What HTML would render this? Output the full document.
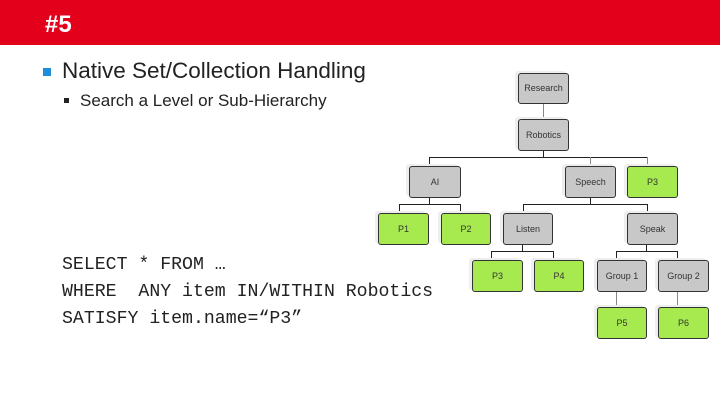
<!DOCTYPE html>
<html><head><meta charset="utf-8"><style>
body{margin:0;width:720px;height:405px;background:#fff;position:relative;overflow:hidden;font-family:"Liberation Sans",sans-serif}
.bar{position:absolute;left:0;top:0;width:720px;height:45px;background:#e2001a}
.t{position:absolute;white-space:nowrap}
.n{position:absolute;box-sizing:border-box;border:1px solid #333;border-radius:3px;font-size:9px;color:#333;text-align:center;box-shadow:-3px -2px 0 #eee}
.g{background:#c8c8c8}.p{background:#a6ea50}
.l{position:absolute;background:#222}
</style></head><body>
<div class="bar"></div>
<div class="t" style="left:45px;top:11px;font-size:24px;font-weight:bold;color:#fff">#5</div>
<div class="t" style="left:43px;top:68px;width:8px;height:8px;background:#1f8fdc"></div>
<div class="t" style="left:62px;top:58px;font-size:22.5px;color:#222">Native Set/Collection Handling</div>
<div class="t" style="left:64px;top:98px;width:5px;height:5px;background:#222"></div>
<div class="t" style="left:80px;top:91px;font-size:17px;color:#222">Search a Level or Sub-Hierarchy</div>
<div class="t" style="left:62px;top:252px;font-family:'Liberation Mono',monospace;font-size:18.2px;line-height:27px;color:#222;white-space:pre">SELECT * FROM …
WHERE  ANY item IN/WITHIN Robotics
SATISFY item.name=“P3”</div>
<!-- lines -->
<div class="l" style="left:543px;top:104px;width:1px;height:15px;background:#888"></div>
<div class="l" style="left:543px;top:151px;width:1px;height:6px"></div>
<div class="l" style="left:429px;top:157px;width:219px;height:1px"></div>
<div class="l" style="left:429px;top:157px;width:1px;height:9px"></div>
<div class="l" style="left:590px;top:157px;width:1px;height:9px;background:#888"></div>
<div class="l" style="left:647px;top:157px;width:1px;height:9px;background:#888"></div>
<div class="l" style="left:399px;top:204px;width:62px;height:1px"></div>
<div class="l" style="left:399px;top:204px;width:1px;height:9px"></div>
<div class="l" style="left:460px;top:204px;width:1px;height:9px"></div>
<div class="l" style="left:429px;top:198px;width:1px;height:6px"></div>
<div class="l" style="left:523px;top:204px;width:125px;height:1px"></div>
<div class="l" style="left:523px;top:204px;width:1px;height:9px"></div>
<div class="l" style="left:647px;top:204px;width:1px;height:9px"></div>
<div class="l" style="left:590px;top:198px;width:1px;height:6px"></div>
<div class="l" style="left:491px;top:251px;width:63px;height:1px"></div>
<div class="l" style="left:491px;top:251px;width:1px;height:9px"></div>
<div class="l" style="left:553px;top:251px;width:1px;height:9px"></div>
<div class="l" style="left:522px;top:245px;width:1px;height:6px"></div>
<div class="l" style="left:616px;top:251px;width:62px;height:1px"></div>
<div class="l" style="left:616px;top:251px;width:1px;height:9px"></div>
<div class="l" style="left:677px;top:251px;width:1px;height:9px"></div>
<div class="l" style="left:646px;top:245px;width:1px;height:6px"></div>
<div class="l" style="left:616px;top:292px;width:1px;height:15px;background:#888"></div>
<div class="l" style="left:677px;top:292px;width:1px;height:15px;background:#888"></div>
<!-- nodes -->
<div class="n g" style="left:518px;top:73px;width:51px;height:31px;line-height:29px">Research</div>
<div class="n g" style="left:518px;top:119px;width:51px;height:32px;line-height:30px">Robotics</div>
<div class="n g" style="left:409px;top:166px;width:52px;height:32px;line-height:30px">AI</div>
<div class="n g" style="left:565px;top:166px;width:51px;height:32px;line-height:30px">Speech</div>
<div class="n p" style="left:627px;top:166px;width:51px;height:32px;line-height:30px">P3</div>
<div class="n p" style="left:378px;top:213px;width:51px;height:32px;line-height:30px">P1</div>
<div class="n p" style="left:441px;top:213px;width:50px;height:32px;line-height:30px">P2</div>
<div class="n g" style="left:503px;top:213px;width:50px;height:32px;line-height:30px">Listen</div>
<div class="n g" style="left:627px;top:213px;width:51px;height:32px;line-height:30px">Speak</div>
<div class="n p" style="left:472px;top:260px;width:51px;height:32px;line-height:30px">P3</div>
<div class="n p" style="left:534px;top:260px;width:50px;height:32px;line-height:30px">P4</div>
<div class="n g" style="left:597px;top:260px;width:50px;height:32px;line-height:30px">Group 1</div>
<div class="n g" style="left:658px;top:260px;width:51px;height:32px;line-height:30px">Group 2</div>
<div class="n p" style="left:597px;top:307px;width:50px;height:32px;line-height:30px">P5</div>
<div class="n p" style="left:658px;top:307px;width:51px;height:32px;line-height:30px">P6</div>
</body></html>
